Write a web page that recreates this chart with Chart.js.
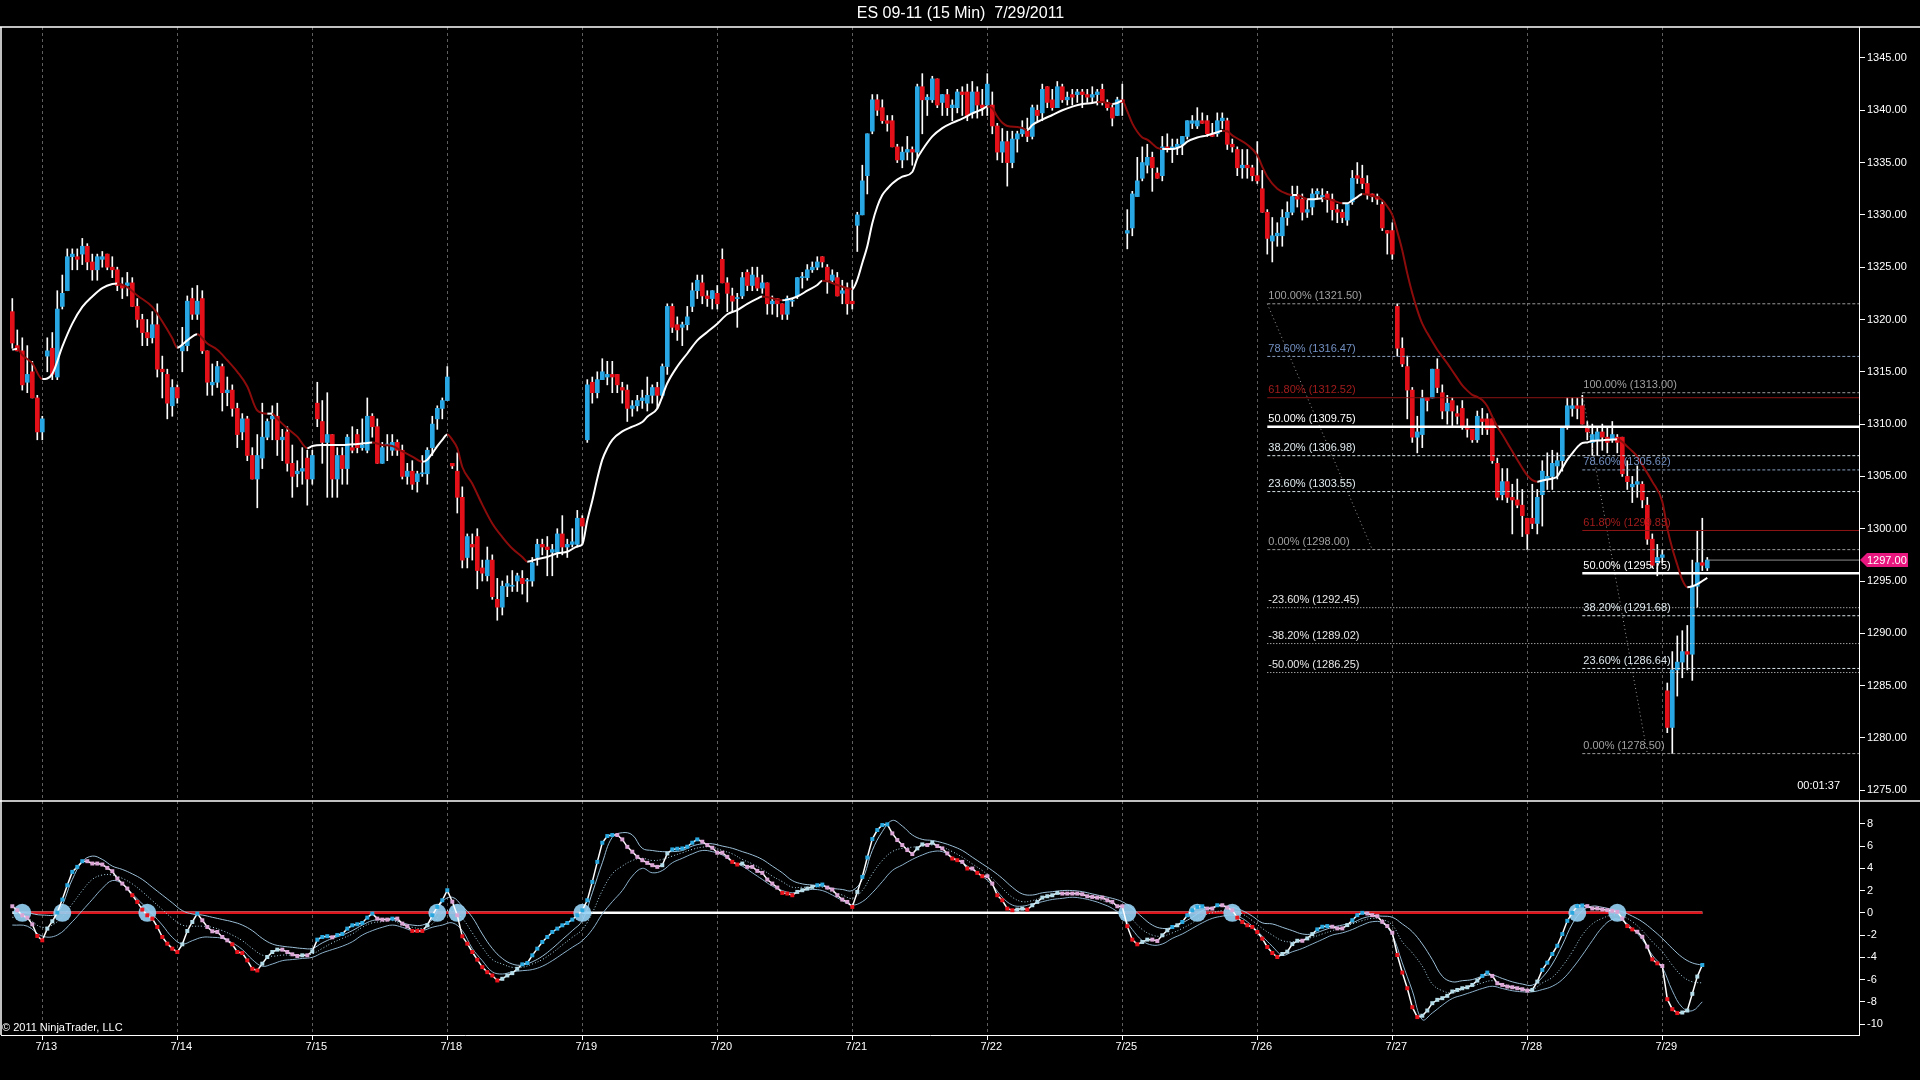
<!DOCTYPE html>
<html>
<head>
<meta charset="utf-8">
<title>ES 09-11 (15 Min) 7/29/2011</title>
<script src="https://cdn.jsdelivr.net/npm/chart.js@4.4.1/dist/chart.umd.min.js"></script>
<style>
  html, body { margin: 0; padding: 0; background: #000; }
  canvas { display: block; }
</style>
</head>
<body>
<canvas id="esChart" width="1920" height="1080"></canvas>
<script>
// ---- values ----
const dayStarts = [6, 33, 60, 87, 114, 141, 168, 195, 222, 249, 276, 303, 330];
const dayLabels = ["7/13", "7/14", "7/15", "7/18", "7/19", "7/20", "7/21", "7/22", "7/25", "7/26", "7/27", "7/28", "7/29"];
const priceTicks = [1275, 1280, 1285, 1290, 1295, 1300, 1305, 1310, 1315, 1320, 1325, 1330, 1335, 1340, 1345];
const oscTicks = [8, 6, 4, 2, 0, -2, -4, -6, -8, -10];

// 15 min bars
const opens = [
  1320.75, 1317.5, 1317, 1314, 1315, 1312.5, 1309.25, 1316.5, 1317.25, 1314.5,
  1321.25, 1322.75, 1326, 1326, 1326.25, 1327, 1325.5, 1324.75, 1325.75, 1326.25,
  1325, 1324.75, 1323.25, 1323.25, 1323.5, 1321.25, 1320, 1318.75, 1318.25, 1319.5,
  1315.25, 1314.75, 1311.75, 1313.5, 1317, 1317.5, 1322, 1320.5, 1322, 1317,
  1313.75, 1314, 1315.5, 1313, 1313.25, 1311.5, 1309.25, 1310.5, 1307, 1304.75,
  1306.75, 1308.75, 1310.5, 1310.75, 1308.5, 1309.25, 1306.25, 1305.25, 1305.5, 1306.75,
  1304.75, 1312, 1310.25, 1308.25, 1309, 1304.75, 1307, 1305.75, 1307.75, 1309,
  1307.75, 1307.5, 1310.75, 1309.75, 1306.25, 1308, 1307.5, 1308.25, 1307.5, 1305,
  1305.5, 1304.5, 1305.25, 1305.25, 1307.75, 1310.5, 1311.5, 1312.25, 1306.25, 1305.5,
  1303, 1297.25, 1298.5, 1299.25, 1296.25, 1295.5, 1297, 1293.25, 1292.5, 1294.5,
  1294.5, 1295, 1295.25, 1295, 1295, 1297.25, 1298.5, 1298.25, 1297.75, 1297.75,
  1299.5, 1298.25, 1298.5, 1298.5, 1301, 1308.5, 1314, 1313, 1314.25, 1314.5,
  1314.75, 1314.75, 1313.5, 1313.25, 1311.5, 1311.75, 1312.25, 1312, 1312.75, 1313.5,
  1312.75, 1315.5, 1321.25, 1319.5, 1319.25, 1319.5, 1321.25, 1322.75, 1323.5, 1322.25,
  1322, 1322.5, 1325.75, 1323.5, 1322.25, 1322, 1322.25, 1324.5, 1323.25, 1324,
  1323, 1323.5, 1321.5, 1322, 1321.5, 1320.5, 1321.75, 1322.25, 1324, 1324,
  1324.75, 1325, 1326, 1325, 1323.75, 1324, 1322.5, 1323, 1321.75, 1329,
  1330, 1333.75, 1338, 1341, 1340.25, 1339, 1339, 1336.5, 1335.25, 1336,
  1336.25, 1336, 1342.25, 1341, 1341, 1343, 1340.75, 1341.5, 1340.25, 1340.25,
  1341.75, 1341.75, 1339.75, 1341.75, 1340.5, 1340.5, 1340.5, 1338.5, 1336, 1337,
  1335, 1337.25, 1337.75, 1338, 1337.5, 1340, 1339.75, 1342.25, 1341, 1340.25,
  1342.25, 1341, 1341.5, 1341.5, 1341.75, 1341.5, 1341.25, 1341.5, 1342, 1340.75,
  1340.25, 1339.5, 1341, 1328.25, 1328.75, 1331.75, 1333.5, 1334.75, 1335.5, 1334,
  1333.75, 1336.5, 1336.25, 1336.5, 1336.75, 1337.5, 1338.75, 1338.5, 1339, 1339,
  1337.75, 1337.75, 1339, 1339, 1336.75, 1336.25, 1334.5, 1334.75, 1334.5, 1333.75,
  1332.5, 1330.25, 1327.5, 1328, 1328, 1329.75, 1330.25, 1331.75, 1331.5, 1330.25,
  1330.75, 1332, 1331.75, 1332, 1331.5, 1330.5, 1330.25, 1329.5, 1331.25, 1333.75,
  1333.5, 1333, 1332, 1331.75, 1331, 1328.5, 1328.5, 1321.25, 1317.25, 1315.5,
  1313.25, 1308.75, 1309, 1312.5, 1312.5, 1315.25, 1313, 1311.25, 1312.25, 1311,
  1311.5, 1309.75, 1309.5, 1308.5, 1310.5, 1310.5, 1310.5, 1306.25, 1303.25, 1304.5,
  1303, 1302.75, 1302.25, 1301, 1301, 1300.5, 1303.25, 1304.75, 1305, 1306,
  1306.5, 1309.75, 1311.5, 1311.75, 1311.75, 1309.75, 1308.25, 1308.5, 1309.25, 1308.75,
  1308.5, 1308.75, 1308.75, 1305, 1304, 1304.25, 1304.25, 1302.25, 1299, 1296.75,
  1297.25, 1284.5, 1281, 1286.5, 1287.25, 1288.25, 1288, 1294.5, 1296.75, 1296.25
];
const highs = [
  1322, 1319, 1318.25, 1317.5, 1316, 1312.75, 1310.75, 1318.25, 1318.75, 1322.75,
  1324.25, 1326.75, 1326.75, 1326.75, 1327.75, 1327.25, 1326.25, 1326.25, 1326.5, 1326.25,
  1326, 1325, 1324, 1324.5, 1324, 1322, 1320.5, 1320, 1320.75, 1321.5,
  1316.5, 1315.25, 1314.25, 1313.75, 1319.25, 1322.25, 1323, 1323.25, 1322.75, 1317,
  1315.75, 1316, 1315.75, 1314.5, 1313.75, 1312, 1311, 1310.75, 1307.75, 1309,
  1312, 1310.5, 1311.75, 1312, 1309.5, 1309.75, 1308, 1306.5, 1307.75, 1307.5,
  1307.5, 1314, 1312.25, 1313, 1309, 1307.75, 1307.75, 1309, 1309.75, 1309.5,
  1310.5, 1312.5, 1311, 1310.5, 1308.25, 1309, 1309, 1308.5, 1308, 1306.25,
  1306.5, 1305.5, 1307, 1307.75, 1310.75, 1311.75, 1312.5, 1315.5, 1306.25, 1307.25,
  1304, 1299.5, 1299.5, 1300, 1297, 1298.25, 1297.5, 1295.25, 1295, 1295.5,
  1296, 1295.75, 1296, 1295.25, 1297.25, 1299, 1299, 1299.25, 1298.5, 1300,
  1301.25, 1299, 1300, 1301.75, 1301.25, 1314.25, 1314.5, 1315, 1316.25, 1316,
  1316, 1314.75, 1314, 1313.75, 1312.25, 1312.75, 1313.25, 1314.5, 1313.75, 1314,
  1315.75, 1321.5, 1321.5, 1320.25, 1319.75, 1321.25, 1323.5, 1324.25, 1324.25, 1322.75,
  1322.75, 1323.25, 1326.75, 1324, 1323, 1322.5, 1324.5, 1324.75, 1325, 1325,
  1324.25, 1323.5, 1322.25, 1322, 1321.5, 1322.25, 1322, 1324, 1324.5, 1325.25,
  1325.5, 1326, 1326, 1325.25, 1324.75, 1324.5, 1323.75, 1323.5, 1323.75, 1330.25,
  1334.75, 1337.75, 1341.5, 1341.5, 1341, 1339.5, 1339.5, 1336.75, 1336.5, 1337.5,
  1336.5, 1342.5, 1343.5, 1341.5, 1343.25, 1343, 1341.5, 1342, 1341, 1342,
  1342.25, 1342.5, 1342.75, 1342.25, 1342, 1343.5, 1341.75, 1338.75, 1338.25, 1338,
  1338, 1338, 1339, 1339.25, 1340.5, 1340.5, 1342.5, 1342.25, 1342, 1342.75,
  1342.5, 1341.75, 1342, 1342, 1342, 1342, 1342.25, 1342, 1342.5, 1341,
  1340.5, 1341.25, 1342.5, 1330.5, 1332.25, 1335.5, 1336.5, 1336.75, 1336, 1334.5,
  1337.5, 1337.75, 1337.25, 1337.25, 1337.5, 1339, 1339.5, 1340.25, 1339.75, 1339.5,
  1338.75, 1339.75, 1339.75, 1339.25, 1337.25, 1336.5, 1336.25, 1336.25, 1334.75, 1337,
  1334.25, 1330.5, 1329.75, 1329.25, 1330.5, 1331.25, 1332.75, 1332.75, 1332, 1331.5,
  1332.5, 1332.5, 1332.5, 1332.25, 1332, 1331, 1330.5, 1331, 1334.25, 1335,
  1334.75, 1333.75, 1332, 1332, 1331.25, 1328.5, 1329.25, 1321.5, 1318.25, 1316.5,
  1313.5, 1310.75, 1313.25, 1312.5, 1315.25, 1316.25, 1313.75, 1312.75, 1312.5, 1311.75,
  1312.25, 1310.5, 1309.5, 1311.25, 1311.5, 1311, 1310.5, 1306.75, 1305.75, 1305.75,
  1304.25, 1304.75, 1303.75, 1301, 1304.25, 1303.75, 1306.5, 1307.25, 1307.5, 1307.25,
  1309.75, 1312.5, 1312.5, 1312.5, 1312.75, 1310.25, 1310, 1309.75, 1310, 1309.75,
  1310.25, 1309, 1308.75, 1306.5, 1305, 1306, 1304.5, 1303, 1299.5, 1298.5,
  1298, 1285.25, 1288.25, 1289.75, 1290.25, 1290.75, 1297, 1299.75, 1301, 1297.25
];
const lows = [
  1317.25, 1317, 1313.25, 1313, 1312.5, 1308.5, 1308.5, 1315, 1314.25, 1314.25,
  1321, 1322.75, 1324.75, 1324.75, 1325.25, 1324.75, 1323.75, 1323.75, 1325, 1324.75,
  1324, 1322.75, 1322, 1322.25, 1321.25, 1319.25, 1317.5, 1317.5, 1317.75, 1314.5,
  1312.5, 1310.5, 1310.75, 1312, 1315, 1317, 1320, 1320, 1316.75, 1312.75,
  1312.75, 1313.5, 1311.25, 1311.75, 1310.75, 1307.75, 1308.5, 1306.5, 1304.75, 1302,
  1305.75, 1308.5, 1308.5, 1307, 1306.5, 1305.5, 1303, 1304, 1304.25, 1302.25,
  1304.25, 1309.75, 1306.25, 1303, 1303, 1303, 1304.25, 1304.25, 1307.25, 1307.25,
  1307.5, 1307.25, 1308.75, 1306.25, 1306.25, 1306.5, 1307, 1307, 1304.75, 1304.25,
  1303.75, 1303.5, 1305, 1304.25, 1307, 1309.5, 1310.5, 1312.25, 1305.75, 1301.5,
  1296.25, 1296.25, 1297, 1294.25, 1295, 1295, 1293.25, 1291.25, 1291.75, 1293.5,
  1294, 1294, 1293.75, 1293, 1294.5, 1296.5, 1297.5, 1295.5, 1295.5, 1297.25,
  1297.5, 1297.25, 1298.25, 1298.25, 1298.5, 1308.25, 1312, 1312.5, 1314.25, 1313.75,
  1313, 1313, 1312, 1310.25, 1310.75, 1311.25, 1311.5, 1311.25, 1312, 1311.5,
  1312.5, 1314.75, 1318.75, 1318, 1317.5, 1319, 1320.75, 1322, 1321.5, 1321.25,
  1321, 1321, 1323.5, 1320.75, 1320.75, 1319.25, 1322, 1322.75, 1322.75, 1322.75,
  1322.5, 1320.5, 1320.5, 1320.25, 1320, 1320, 1321.25, 1322, 1323, 1323.75,
  1324.5, 1324.75, 1325, 1322.5, 1323.5, 1322.25, 1321.5, 1320.5, 1321, 1326.5,
  1330, 1332, 1337.75, 1339.5, 1338.75, 1338, 1336.5, 1335, 1334.5, 1335.25,
  1334.75, 1335.5, 1337.75, 1339.5, 1340.75, 1340.25, 1339.5, 1339.5, 1339, 1339.75,
  1339.5, 1339, 1339.25, 1339.25, 1339.5, 1339.5, 1337.75, 1335.25, 1335, 1332.75,
  1334.5, 1336, 1337.5, 1337, 1337.25, 1339, 1339, 1340.25, 1340, 1340.25,
  1340.75, 1340.5, 1340.5, 1340.75, 1340.25, 1340.75, 1340.75, 1340.5, 1340.5, 1340,
  1338.5, 1339.5, 1339.5, 1326.75, 1328, 1331.75, 1333.25, 1334, 1332.25, 1333.5,
  1333.25, 1336, 1335, 1335.75, 1335.75, 1337.25, 1338.25, 1338.25, 1338.75, 1337.5,
  1337.5, 1337.5, 1338.25, 1336.25, 1336, 1333.75, 1333.5, 1333.5, 1333.25, 1333,
  1330.25, 1326.25, 1325.5, 1327, 1327, 1329, 1330, 1330.75, 1329.5, 1329.75,
  1330, 1331.5, 1331.25, 1330.25, 1329.5, 1329.25, 1329.25, 1329, 1331, 1333,
  1332.5, 1331.5, 1331.25, 1331, 1328.5, 1326.25, 1325.75, 1316.5, 1315.5, 1310.5,
  1308.25, 1307.25, 1307.75, 1311.25, 1312.5, 1313, 1310.5, 1310, 1309.75, 1310,
  1309.5, 1308.75, 1308.25, 1308.25, 1309, 1309, 1306.25, 1302.75, 1302.75, 1302.5,
  1299.5, 1302, 1299.25, 1298, 1300, 1299.5, 1300.25, 1303.75, 1303.75, 1304.75,
  1305.5, 1309.5, 1310.75, 1310.5, 1310, 1308.5, 1307, 1307, 1307.5, 1307.25,
  1308.25, 1307.25, 1305, 1303.75, 1302.5, 1303, 1302, 1298.5, 1296.25, 1295.5,
  1296.75, 1280.5, 1278.5, 1284, 1285.75, 1286.5, 1285.5, 1292.5, 1296, 1296
];
const closes = [
  1317.75, 1317, 1313.75, 1314.75, 1312.5, 1309.25, 1310.5, 1317, 1314.75, 1321,
  1322.5, 1326, 1326.25, 1325.75, 1327, 1325.5, 1324.75, 1326, 1326, 1325,
  1324.75, 1323.25, 1323, 1323.5, 1321.25, 1320, 1318.75, 1318.25, 1319.5, 1315.25,
  1315, 1312, 1313.5, 1312.5, 1317.5, 1321.75, 1320.5, 1321.75, 1317, 1314,
  1314, 1315.5, 1313, 1313.25, 1311.5, 1309, 1310.5, 1307, 1304.75, 1307,
  1308.75, 1310.25, 1310.75, 1308.5, 1308.75, 1306.25, 1305, 1305.5, 1305.75, 1304.75,
  1307, 1310.5, 1308.25, 1309, 1304.75, 1307, 1305.75, 1308.75, 1307.5, 1307.75,
  1308, 1310.75, 1309.75, 1306.25, 1307.75, 1308, 1308.25, 1307.5, 1305, 1305.5,
  1304.25, 1305.25, 1305.25, 1307.5, 1310, 1311.5, 1312.25, 1314.5, 1306, 1303,
  1297, 1299.25, 1298.25, 1296, 1295.75, 1297, 1293.5, 1292.5, 1294.5, 1294.75,
  1294.5, 1295.5, 1294.75, 1295, 1296.75, 1298.5, 1298.25, 1298, 1298, 1299.5,
  1298.25, 1298.5, 1298.75, 1301, 1300.25, 1313.75, 1313, 1314.25, 1315, 1314.75,
  1314.5, 1313.75, 1313.25, 1311.5, 1311.75, 1312.25, 1312.5, 1312.75, 1313.5, 1312.75,
  1315.5, 1321.25, 1319.25, 1319, 1319.5, 1320.25, 1322.75, 1323.75, 1322.25, 1322,
  1322.75, 1321.5, 1323.5, 1322.5, 1321.75, 1322, 1324, 1323.25, 1324.25, 1323,
  1323.5, 1321.5, 1321.75, 1321.5, 1320.5, 1322, 1321.75, 1324, 1324, 1324.75,
  1325, 1325.5, 1325.5, 1323.75, 1324.25, 1322.25, 1322.75, 1321.5, 1321.5, 1330,
  1333.25, 1337.75, 1341, 1340, 1339, 1338.75, 1336.5, 1335.25, 1336, 1336.25,
  1336, 1342.25, 1341, 1341.25, 1343, 1340.5, 1341.5, 1340.25, 1340.5, 1341.75,
  1341.5, 1339.5, 1341.75, 1340.5, 1340.25, 1342.5, 1338.5, 1336, 1337, 1335,
  1337.25, 1337.75, 1338.25, 1337.5, 1340.25, 1339.5, 1342, 1340.75, 1340.25, 1342.25,
  1341, 1341.25, 1341.25, 1341.75, 1341.5, 1341.25, 1341.5, 1341.75, 1340.75, 1340.25,
  1339.25, 1341, 1340.75, 1328.5, 1332, 1333.25, 1335, 1335.5, 1334.5, 1333.5,
  1336.5, 1336.25, 1336.5, 1336.75, 1337.5, 1339, 1339, 1339, 1338.75, 1337.75,
  1337.5, 1339, 1339.25, 1336.75, 1336.5, 1334.5, 1334.75, 1334.5, 1333.75, 1333.25,
  1330.25, 1327.75, 1328, 1328.25, 1329.75, 1330.25, 1331.75, 1331.5, 1330.25, 1330.5,
  1332, 1332.25, 1331.75, 1331.5, 1330.5, 1330.25, 1329.75, 1331, 1333.5, 1333.5,
  1333, 1332, 1331.75, 1331.5, 1328.75, 1328.25, 1326.25, 1317.25, 1315.75, 1313.25,
  1308.75, 1309.25, 1312.5, 1312.25, 1315.25, 1313.5, 1311.25, 1312, 1311.25, 1310.75,
  1309.75, 1309.5, 1308.5, 1310.75, 1310.25, 1309.5, 1306.5, 1303, 1304.5, 1303,
  1302.75, 1302.25, 1301.25, 1299.5, 1300.5, 1303, 1305.5, 1305, 1306.25, 1306.5,
  1309.75, 1311.75, 1311.75, 1311.5, 1310, 1309.25, 1309, 1309.25, 1308.75, 1308.25,
  1309, 1308.25, 1305.25, 1304.5, 1304.25, 1304.5, 1302.75, 1299, 1296.5, 1297.25,
  1297.5, 1281, 1286.5, 1287.25, 1288.25, 1288, 1294.5, 1296.75, 1296.5, 1297
];

// moving average, read at the bars where it could be picked out
const maIdx = [
  0, 1, 2, 4, 6, 8, 10, 12, 14, 16, 18, 20, 21, 23, 25, 28, 30, 32, 33, 34,
  35, 37, 39, 41, 43, 45, 47, 49, 51, 52, 53, 55, 57, 59, 60, 62, 64, 66, 69, 71,
  72, 74, 76, 78, 80, 82, 83, 84, 85, 86, 87, 88, 89, 90, 92, 94, 96, 98, 100, 102,
  103, 105, 107, 109, 111, 113, 114, 115, 116, 117, 118, 119, 120, 122, 124, 126, 127, 129, 131, 133,
  135, 137, 139, 141, 143, 145, 147, 149, 150, 151, 153, 154, 155, 157, 159, 161, 162, 163, 165, 167,
  168, 169, 170, 171, 172, 173, 174, 175, 176, 178, 180, 181, 182, 184, 186, 188, 190, 192, 193, 194,
  195, 196, 197, 198, 199, 201, 202, 203, 204, 206, 208, 210, 212, 214, 216, 217, 218, 219, 220, 221,
  222, 223, 224, 225, 226, 227, 228, 229, 230, 232, 233, 234, 235, 237, 239, 241, 242, 243, 244, 245,
  247, 249, 250, 251, 253, 255, 256, 257, 258, 259, 260, 262, 264, 266, 267, 268, 269, 270, 271, 272,
  273, 274, 275, 276, 277, 278, 279, 280, 281, 282, 283, 284, 285, 286, 287, 288, 289, 290, 291, 292,
  293, 294, 295, 296, 297, 298, 299, 300, 301, 302, 303, 304, 305, 306, 307, 308, 309, 310, 311, 312,
  313, 314, 315, 316, 317, 318, 319, 320, 321, 322, 323, 324, 325, 326, 328, 330, 331, 332, 333, 334,
  335, 336, 337, 338, 339
];
const maVal = [
  1317.1, 1317.2, 1316.6, 1315.8, 1314.3, 1314.8, 1317.4, 1319.6, 1321.2, 1322.2, 1323.0, 1323.4, 1323.45, 1323.1, 1322.3, 1321.2, 1319.8, 1318.2, 1317.3, 1317.6,
  1318.0, 1318.6, 1317.7, 1317.1, 1316.1, 1315.0, 1313.6, 1311.3, 1311.0, 1311.0, 1310.5, 1309.6, 1308.8, 1307.7, 1307.9, 1308.0, 1308.0, 1308.0, 1308.1, 1308.2,
  1308.25, 1308.0, 1307.9, 1307.4, 1306.9, 1306.4, 1306.6, 1307.2, 1307.9, 1308.5, 1309.0, 1308.5, 1307.7, 1305.9, 1304.3, 1302.3, 1300.5, 1299.2, 1298.1, 1297.3,
  1296.85, 1297.1, 1297.3, 1297.65, 1297.8, 1298.3, 1298.5, 1300.8, 1302.7, 1304.8, 1306.6, 1307.7, 1308.5, 1309.3, 1309.75, 1310.2, 1310.7, 1311.5, 1313.9, 1315.5,
  1316.75, 1318.0, 1318.8, 1319.6, 1320.5, 1320.9, 1321.5, 1322.0, 1322.2, 1322.15, 1321.9, 1321.85, 1321.9, 1322.2, 1322.75, 1323.3, 1323.7, 1323.65, 1323.3, 1323.0,
  1322.9, 1323.8, 1325.4, 1327.0, 1329.2, 1330.8, 1331.9, 1332.5, 1333.0, 1333.65, 1334.1, 1335.4, 1336.2, 1337.5, 1338.3, 1338.8, 1339.2, 1339.7, 1339.9, 1340.1,
  1340.35, 1340.2, 1339.4, 1338.8, 1338.5, 1338.4, 1338.3, 1338.1, 1338.6, 1339.1, 1339.55, 1340.0, 1340.35, 1340.6, 1340.7, 1340.8, 1340.78, 1340.7, 1340.6, 1340.7,
  1340.9, 1339.9, 1338.75, 1337.95, 1337.4, 1337.2, 1336.8, 1336.4, 1336.3, 1336.3, 1336.4, 1336.6, 1337.0, 1337.4, 1337.6, 1337.9, 1338.05, 1338.0, 1337.6, 1337.3,
  1336.7, 1335.7, 1334.6, 1333.65, 1332.5, 1332.0, 1331.9, 1331.9, 1331.7, 1331.5, 1331.5, 1331.6, 1331.4, 1331.1, 1331.1, 1331.4, 1331.7, 1332.0, 1331.95, 1331.8,
  1331.7, 1331.4, 1330.8, 1330.0, 1328.4, 1326.6, 1324.4, 1322.5, 1320.9, 1319.6, 1318.7, 1317.9, 1317.1, 1316.45, 1315.8, 1315.1, 1314.4, 1313.7, 1313.2, 1312.8,
  1312.6, 1312.3, 1311.7, 1310.7, 1309.75, 1309.0, 1308.2, 1307.4, 1306.6, 1305.8, 1305.1, 1304.65, 1304.5, 1304.6, 1304.7, 1304.8, 1305.0, 1305.8, 1306.6, 1307.2,
  1307.8, 1308.2, 1308.25, 1308.4, 1308.42, 1308.45, 1308.5, 1308.52, 1308.55, 1308.3, 1307.85, 1307.4, 1306.9, 1306.1, 1304.5, 1302.6, 1300.05, 1298.1, 1296.55, 1295.1,
  1294.4, 1294.5, 1294.7, 1295.0, 1295.3
];

// fibonacci retracements drawn on the chart
const fibPcts = [100, 78.6, 61.8, 50, 38.2, 23.6, 0, -23.6, -38.2, -50];
const fibALevels = [1321.50, 1316.47, 1312.52, 1309.75, 1306.98, 1303.55, 1298.00, 1292.45, 1289.02, 1286.25];
const fibBLevels = [1313.00, 1305.62, 1299.83, 1295.75, 1291.68, 1286.64, 1278.50];
const fibAStart = 251;
const fibBStart = 314;
const fibATrend = [[251, 1321.5], [272, 1298.0]];
const fibBTrend = [[314, 1313.0], [327, 1278.5]];

// oscillator (lower pane)
const oscVals = [
  0.59, 0.23, -0.22, -0.43, -1.03, -2.08, -2.47, -1.42, -0.76, 0.02,
  1.19, 2.48, 3.68, 4.13, 4.64, 4.64, 4.43, 4.43, 4.34, 4.04,
  3.74, 3.08, 2.63, 2.18, 1.58, 0.98, 0.29, -0.22, -0.52, -1.27,
  -2.17, -2.77, -3.22, -3.52, -2.83, -1.63, -0.82, -0.07, -0.67, -1.27,
  -1.66, -1.72, -2.17, -2.47, -2.83, -3.52, -3.61, -4.27, -5.03, -5.18,
  -4.57, -3.97, -3.52, -3.31, -3.31, -3.52, -3.73, -3.88, -3.82, -3.82,
  -3.46, -2.41, -2.17, -2.10, -2.20, -2.00, -1.90, -1.42, -1.12, -1.03,
  -0.91, -0.43, -0.07, -0.52, -0.61, -0.61, -0.52, -0.52, -0.97, -1.21,
  -1.63, -1.63, -1.63, -1.12, -0.22, 0.53, 1.13, 2.03, 1.00, -0.22,
  -2.11, -2.77, -3.52, -4.21, -4.88, -5.33, -5.63, -6.08, -5.93, -5.63,
  -5.42, -5.03, -4.63, -4.51, -3.82, -3.22, -2.62, -2.17, -1.72, -1.42,
  -1.12, -0.91, -0.61, -0.22, 0.23, 1.13, 2.78, 4.58, 6.30, 6.90,
  6.99, 6.99, 6.60, 5.93, 5.49, 5.03, 4.73, 4.49, 4.28, 4.13,
  4.28, 5.34, 5.70, 5.76, 5.79, 5.94, 6.30, 6.60, 6.39, 6.09,
  5.85, 5.40, 5.40, 5.03, 4.58, 4.34, 4.43, 4.13, 4.13, 3.77,
  3.59, 2.99, 2.63, 2.27, 1.79, 1.73, 1.58, 1.88, 2.03, 2.18,
  2.33, 2.48, 2.54, 2.27, 2.09, 1.58, 1.19, 0.98, 0.53, 1.88,
  3.23, 4.97, 6.63, 7.44, 7.89, 7.95, 7.14, 6.54, 6.09, 5.64,
  5.28, 5.79, 6.15, 6.09, 6.30, 6.00, 5.79, 5.34, 4.88, 4.73,
  4.58, 3.98, 3.98, 3.59, 3.29, 3.29, 2.63, 1.58, 1.13, 0.38,
  0.23, 0.29, 0.38, 0.29, 0.68, 0.98, 1.37, 1.49, 1.58, 1.79,
  1.73, 1.73, 1.73, 1.73, 1.67, 1.49, 1.43, 1.37, 1.37, 1.13,
  0.98, 0.59, 0.59, -1.20, -2.41, -2.83, -2.62, -2.41, -2.41, -2.53,
  -2.02, -1.57, -1.27, -1.12, -0.82, -0.22, 0.23, 0.53, 0.59, 0.38,
  0.38, 0.68, 0.68, 0.47, 0.23, -0.43, -0.82, -1.12, -1.27, -1.72,
  -2.32, -3.07, -3.61, -3.97, -3.70, -3.49, -2.81, -2.51, -2.51, -2.30,
  -1.91, -1.49, -1.25, -1.19, -1.25, -1.40, -1.40, -1.10, -0.66, -0.21,
  0.00, -0.06, -0.21, -0.30, -0.81, -1.19, -1.79, -3.79, -5.37, -6.78,
  -8.48, -9.37, -9.25, -8.78, -8.12, -7.82, -7.67, -7.46, -7.07, -6.93,
  -6.78, -6.69, -6.48, -6.09, -5.67, -5.37, -5.67, -6.33, -6.48, -6.63,
  -6.69, -6.78, -6.87, -6.99, -6.93, -6.18, -5.13, -4.48, -3.70, -2.96,
  -1.91, -0.72, 0.00, 0.60, 0.66, 0.60, 0.39, 0.39, 0.30, 0.24,
  0.18, 0.09, -0.51, -1.19, -1.49, -1.70, -2.15, -3.04, -4.18, -4.54,
  -4.78, -7.76, -8.66, -9.01, -8.96, -8.78, -7.28, -5.73, -4.69
];
const bandIdx = [
  0, 3, 6, 9, 12, 14, 16, 18, 20, 22, 24, 26, 28, 30, 32, 34, 36, 38, 40, 42,
  44, 46, 48, 50, 52, 54, 56, 58, 60, 62, 64, 66, 68, 70, 72, 74, 76, 78, 80, 82,
  84, 86, 88, 90, 92, 94, 96, 98, 100, 102, 104, 106, 108, 110, 112, 114, 116, 118, 120, 122,
  124, 126, 128, 130, 132, 134, 136, 138, 140, 142, 144, 146, 148, 150, 152, 154, 156, 158, 160, 162,
  164, 166, 168, 170, 172, 174, 176, 178, 180, 182, 184, 186, 188, 190, 192, 194, 196, 198, 200, 202,
  204, 206, 208, 210, 212, 214, 216, 218, 220, 222, 224, 226, 228, 230, 232, 234, 236, 238, 240, 242,
  244, 246, 248, 250, 252, 254, 256, 258, 260, 262, 264, 266, 268, 270, 272, 274, 276, 278, 280, 282,
  284, 286, 288, 290, 292, 294, 296, 298, 300, 302, 304, 306, 308, 310, 312, 314, 316, 318, 320, 322,
  324, 326, 328, 330, 332, 334, 336, 338
];
const bandUpper = [
  0.1, 0.0, -0.2, 0.0, 3.0, 4.6, 5.1, 4.8, 4.2, 3.9, 3.5, 3.0, 2.3, 1.6, 0.9, 0.2, -0.1, -0.2, -0.4, -0.6,
  -0.8, -1.1, -1.6, -2.3, -2.8, -3.0, -3.1, -3.2, -3.2, -2.7, -2.3, -2.0, -1.6, -1.1, -0.7, -0.6, -0.6, -0.9, -1.1, -1.1,
  -0.6, 1.0, 1.4, 0.6, -0.4, -1.9, -3.2, -4.1, -4.6, -4.7, -4.4, -3.9, -3.2, -2.4, -1.6, -0.7, 1.8, 4.5, 6.8, 7.2,
  7.0, 5.8, 5.6, 5.5, 5.5, 5.6, 6.0, 6.2, 6.2, 6.0, 5.8, 5.5, 5.2, 4.8, 4.2, 3.6, 2.9, 2.6, 2.5, 2.4,
  2.2, 2.1, 2.0, 3.0, 5.6, 7.3, 8.3, 7.8, 7.0, 6.6, 6.5, 6.3, 6.0, 5.6, 5.0, 4.4, 3.8, 3.1, 2.3, 1.7,
  1.6, 1.8, 1.9, 2.0, 2.0, 1.9, 1.7, 1.5, 1.3, 1.0, 0.4, -0.4, -1.1, -1.4, -1.3, -0.9, -0.4, 0.2, 0.5, 0.6,
  0.5, 0.2, -0.3, -0.9, -1.0, -1.3, -1.6, -1.9, -1.9, -1.6, -1.3, -1.1, -0.9, -0.5, -0.3, -0.3, -0.4, -1.0, -1.7, -2.8,
  -4.2, -5.7, -6.2, -6.1, -6.0, -5.7, -5.6, -5.9, -6.2, -6.4, -6.5, -5.8, -4.6, -2.9, -1.0, 0.2, 0.6, 0.5, 0.3, 0.1,
  -0.3, -0.8, -1.5, -2.3, -3.2, -4.0, -4.5, -4.7
];
const bandMid = [
  -0.4, -0.5, -1.3, -0.8, 0.8, 2.0, 3.0, 3.4, 3.4, 3.1, 2.6, 1.9, 1.1, 0.3, -0.5, -1.1, -1.2, -1.2, -1.3, -1.6,
  -2.0, -2.5, -3.2, -3.8, -3.9, -3.8, -3.8, -3.8, -3.7, -3.2, -2.7, -2.3, -1.9, -1.3, -0.9, -0.8, -0.7, -1.1, -1.3, -1.4,
  -1.0, 0.0, 0.2, -0.5, -1.8, -3.1, -4.2, -4.6, -4.9, -4.9, -4.6, -4.2, -3.6, -2.9, -2.2, -1.5, 0.0, 2.0, 3.5, 4.2,
  4.7, 4.9, 4.7, 4.8, 5.1, 5.4, 5.7, 5.9, 5.9, 5.6, 5.3, 4.8, 4.4, 3.9, 3.3, 2.8, 2.3, 2.3, 2.3, 2.3,
  1.9, 1.6, 1.3, 2.0, 3.5, 4.7, 5.5, 5.8, 5.9, 6.0, 6.1, 5.9, 5.5, 5.0, 4.4, 3.8, 3.1, 2.2, 1.4, 1.0,
  1.1, 1.4, 1.6, 1.7, 1.7, 1.6, 1.4, 1.1, 0.8, 0.3, -0.6, -1.5, -2.0, -2.1, -1.8, -1.4, -0.9, -0.3, 0.0, 0.2,
  0.2, -0.1, -0.7, -1.4, -2.0, -2.5, -2.6, -2.4, -2.2, -1.9, -1.6, -1.3, -1.0, -0.7, -0.5, -0.6, -1.1, -2.6, -3.6, -4.8,
  -6.4, -7.0, -7.2, -6.9, -6.6, -6.3, -6.1, -6.4, -6.6, -6.8, -6.9, -6.3, -5.8, -4.8, -3.5, -2.0, -1.0, -0.5, -0.2, -0.3,
  -0.8, -1.6, -2.6, -3.5, -4.7, -5.7, -6.2, -6.3
];
const bandLower = [
  -1.1, -1.2, -2.1, -2.0, -0.8, 0.2, 1.2, 2.2, 2.9, 2.6, 1.7, 0.8, -0.1, -1.1, -2.2, -2.8, -2.5, -2.2, -2.2, -2.3,
  -2.7, -3.3, -4.2, -4.8, -4.6, -4.3, -4.2, -4.1, -4.0, -3.6, -3.3, -3.0, -2.6, -2.0, -1.6, -1.3, -1.1, -1.3, -1.6, -1.6,
  -1.3, -1.1, -0.9, -1.6, -3.2, -4.3, -5.3, -5.5, -5.3, -5.2, -5.1, -4.8, -4.3, -3.7, -3.1, -2.5, -1.5, -0.1, 1.0, 2.0,
  3.3, 4.0, 3.6, 3.8, 4.5, 4.9, 5.3, 5.6, 5.5, 5.2, 4.6, 4.2, 3.6, 3.0, 2.4, 2.0, 1.8, 2.0, 2.1, 2.0,
  1.6, 1.1, 0.7, 1.0, 1.8, 2.8, 3.8, 4.3, 4.8, 5.2, 5.5, 5.5, 5.0, 4.5, 3.9, 3.3, 2.5, 1.4, 0.7, 0.6,
  0.8, 1.0, 1.2, 1.3, 1.4, 1.3, 1.1, 0.8, 0.4, -0.3, -1.5, -2.5, -2.9, -2.8, -2.3, -1.9, -1.4, -0.9, -0.5, -0.3,
  -0.2, -0.5, -1.2, -2.1, -3.0, -3.8, -3.5, -3.2, -2.8, -2.4, -2.0, -1.8, -1.5, -1.1, -0.8, -0.9, -2.0, -4.5, -7.0, -9.6,
  -9.0, -8.3, -7.7, -7.4, -7.1, -6.8, -6.6, -6.8, -7.0, -7.1, -7.1, -6.9, -6.6, -6.0, -5.0, -3.8, -2.5, -1.3, -0.6, -0.7,
  -1.4, -2.4, -3.8, -4.9, -7.0, -8.5, -8.8, -8.0
];
const crossIdx = [2, 10, 27, 85, 89, 114, 223, 237, 244, 313, 321];
const zeroRedSpans = [[1, 114], [222, 338]];

// ---- helpers ----
const FONT = '"Liberation Sans", Arial, sans-serif';
const lastClose = closes[closes.length - 1];
const xMin = -2.26;
const xMax = 369.34;

function interp(xs, ys, i) {
  if (i <= xs[0]) return ys[0];
  for (let k = 1; k < xs.length; k++) {
    if (i <= xs[k]) {
      const t = (i - xs[k - 1]) / (xs[k] - xs[k - 1]);
      return ys[k - 1] + t * (ys[k] - ys[k - 1]);
    }
  }
  return ys[ys.length - 1];
}

function oscColor(ctx) {
  const i = ctx.dataIndex;
  const v = oscVals[i];
  const prev = i > 0 ? oscVals[i - 1] : v;
  if (v > prev) return v > interp(bandIdx, bandUpper, i) ? "#2aa8e0" : "#b4dbe8";
  return v < interp(bandIdx, bandLower, i) ? "#e8131b" : "#dba6d6";
}

function fibStyle(p) {
  if (p === 100 || p === 0) return { line: "#9a9a9a", text: "#a0a0a0", width: 1, dash: [3, 2] };
  if (p === 78.6) return { line: "#8aa0c0", text: "#7290c2", width: 1, dash: [3, 2] };
  if (p === 61.8) return { line: "#8e1414", text: "#a31c1c", width: 1, dash: [] };
  if (p === 50) return { line: "#ffffff", text: "#ffffff", width: 2.5, dash: [] };
  if (p > 0) return { line: "#d8e4ea", text: "#dfe9ee", width: 1, dash: [3, 2] };
  return { line: "#e0e0e0", text: "#e8e8e8", width: 1, dash: [1, 2] };
}

// strip the automatic label padding so the plot area starts at the frame
function noPad(s) {
  s.paddingLeft = 0;
  s.paddingRight = 0;
  s.paddingTop = 0;
  s.paddingBottom = 0;
}

const fibDatasets = [];
[[fibAStart, fibALevels], [fibBStart, fibBLevels]].forEach(([start, levels]) => {
  levels.forEach((lvl, k) => {
    const st = fibStyle(fibPcts[k]);
    fibDatasets.push({
      type: "line",
      yAxisID: "y",
      data: [{ x: start, y: lvl }, { x: xMax, y: lvl }],
      borderColor: st.line,
      borderWidth: st.width,
      borderDash: st.dash,
      pointRadius: 0,
      order: 8,
    });
  });
});
[fibATrend, fibBTrend].forEach((tr) => {
  fibDatasets.push({
    type: "line",
    yAxisID: "y",
    data: tr.map(([x, y]) => ({ x, y })),
    borderColor: "#9a9a9a",
    borderWidth: 1,
    borderDash: [1, 3],
    pointRadius: 0,
    order: 8,
  });
});

const zeroRedData = [];
zeroRedSpans.forEach(([a, b]) => {
  zeroRedData.push({ x: a, y: 0 }, { x: b, y: 0 }, { x: b + 0.5, y: null });
});

// ---- plugins: fib labels, pane frame, small texts ----
const fibLabels = {
  id: "fibLabels",
  afterDatasetsDraw(chart) {
    const { ctx, scales } = chart;
    ctx.save();
    ctx.font = "11px " + FONT;
    ctx.textAlign = "left";
    ctx.textBaseline = "bottom";
    [[fibAStart, fibALevels], [fibBStart, fibBLevels]].forEach(([start, levels]) => {
      levels.forEach((lvl, k) => {
        const pct = fibPcts[k];
        ctx.fillStyle = fibStyle(pct).text;
        ctx.fillText(
          pct.toFixed(2) + "% (" + lvl.toFixed(2) + ")",
          scales.x.getPixelForValue(start) + 1,
          scales.y.getPixelForValue(lvl) - 2
        );
      });
    });
    ctx.restore();
  },
};

const paneFrame = {
  id: "paneFrame",
  afterDraw(chart) {
    const { ctx, chartArea, scales, width } = chart;
    const y = scales.y;
    const y2 = scales.y2;
    ctx.save();
    ctx.strokeStyle = "#ffffff";
    ctx.lineWidth = 1.5;
    ctx.beginPath();
    ctx.moveTo(0, chartArea.top);
    ctx.lineTo(width, chartArea.top);
    ctx.moveTo(0, y2.top);
    ctx.lineTo(width, y2.top);
    ctx.moveTo(chartArea.left, chartArea.top);
    ctx.lineTo(chartArea.left, chartArea.bottom);
    ctx.stroke();

    // last price marker on the axis
    const py = y.getPixelForValue(lastClose);
    const ax = y.left;
    ctx.fillStyle = "#e8177f";
    ctx.beginPath();
    ctx.moveTo(ax + 1, py);
    ctx.lineTo(ax + 8, py - 7);
    ctx.lineTo(ax + 49, py - 7);
    ctx.lineTo(ax + 49, py + 7);
    ctx.lineTo(ax + 8, py + 7);
    ctx.closePath();
    ctx.fill();
    ctx.font = "11px " + FONT;
    ctx.fillStyle = "#ffffff";
    ctx.textBaseline = "middle";
    ctx.textAlign = "left";
    ctx.fillText(lastClose.toFixed(2), ax + 8, py + 0.5);

    ctx.textAlign = "right";
    ctx.fillText("00:01:37", chartArea.right - 19, y.bottom - 15);
    ctx.textAlign = "left";
    ctx.fillText("\u00a9 2011 NinjaTrader, LLC", chartArea.left + 1, y2.bottom - 7);
    ctx.restore();
  },
};

// ---- chart ----
const ctxEs = document.getElementById("esChart").getContext("2d");
const esChart = new Chart(ctxEs, {
  type: "line",
  data: {
    datasets: [
      // price pane
      {
        type: "bar",
        yAxisID: "y",
        data: highs.map((h, i) => ({ x: i, y: [lows[i], h] })),
        backgroundColor: "#ffffff",
        barThickness: 1,
        grouped: false,
        order: 12,
      },
      {
        type: "bar",
        yAxisID: "y",
        data: opens.map((o, i) => ({ x: i, y: [o, closes[i]] })),
        backgroundColor: (c) => (closes[c.dataIndex] >= opens[c.dataIndex] ? "#27a6e3" : "#e3101a"),
        barThickness: 4,
        minBarLength: 1,
        grouped: false,
        order: 11,
      },
      ...fibDatasets,
      {
        type: "line",
        yAxisID: "y",
        data: [{ x: closes.length - 1, y: lastClose }, { x: xMax, y: lastClose }],
        borderColor: "#8c8c8c",
        borderWidth: 1,
        pointRadius: 0,
        order: 7,
      },
      {
        type: "line",
        yAxisID: "y",
        data: maIdx.map((x, k) => ({ x, y: maVal[k] })),
        borderWidth: 2,
        pointRadius: 0,
        cubicInterpolationMode: "monotone",
        segment: {
          borderColor: (s) => (s.p1.parsed.y >= s.p0.parsed.y ? "#ffffff" : "#8c0c0c"),
        },
        order: 5,
      },
      // oscillator pane
      {
        yAxisID: "y2",
        data: [{ x: 0, y: 0 }, { x: oscVals.length - 1, y: 0 }],
        borderColor: "#ffffff",
        borderWidth: 2.5,
        pointRadius: 0,
        order: 20,
      },
      {
        yAxisID: "y2",
        data: zeroRedData,
        borderColor: "#e0141c",
        borderWidth: 2.5,
        pointRadius: 0,
        order: 19,
      },
      {
        yAxisID: "y2",
        data: bandIdx.map((x, k) => ({ x, y: bandUpper[k] })),
        borderColor: "#9cc0d8",
        borderWidth: 1,
        pointRadius: 0,
        tension: 0.4,
        order: 18,
      },
      {
        yAxisID: "y2",
        data: bandIdx.map((x, k) => ({ x, y: bandMid[k] })),
        borderColor: "#a9d2e4",
        borderWidth: 1,
        borderDash: [1, 2],
        pointRadius: 0,
        tension: 0.4,
        order: 18,
      },
      {
        yAxisID: "y2",
        data: bandIdx.map((x, k) => ({ x, y: bandLower[k] })),
        borderColor: "#8cb2cc",
        borderWidth: 1,
        pointRadius: 0,
        tension: 0.4,
        order: 18,
      },
      {
        yAxisID: "y2",
        data: crossIdx.map((x) => ({ x, y: 0 })),
        showLine: false,
        pointRadius: 9,
        pointBackgroundColor: "rgba(150, 210, 245, 0.9)",
        pointBorderWidth: 0,
        order: 17,
      },
      {
        yAxisID: "y2",
        data: oscVals.map((v, i) => ({ x: i, y: v })),
        borderColor: "#ffffff",
        borderWidth: 1.5,
        pointStyle: "rect",
        pointRadius: 2.8,
        pointBorderWidth: 0,
        pointBackgroundColor: oscColor,
        order: 1,
      },
    ],
  },
  options: {
    responsive: false,
    devicePixelRatio: 1,
    animation: false,
    events: [],
    layout: { autoPadding: false, padding: { left: 1, right: 0, top: 0, bottom: 26.8 } },
    scales: {
      x: {
        type: "linear",
        min: xMin,
        max: xMax,
        offset: false,
        afterBuildTicks: (s) => { s.ticks = dayStarts.map((v) => ({ value: v })); },
        afterFit: noPad,
        ticks: {
          color: "#ffffff",
          font: { size: 11, family: FONT },
          padding: 0,
          autoSkip: false,
          maxRotation: 0,
          labelOffset: 4,
          callback: (v) => {
            const k = dayStarts.indexOf(v);
            return k >= 0 ? dayLabels[k] : "";
          },
        },
        grid: { color: "#5e5e5e", lineWidth: 1, offset: false, tickColor: "#ffffff", tickLength: 5 },
        border: { display: true, color: "#ffffff", dash: [3, 3] },
      },
      y: {
        type: "linear",
        position: "right",
        stack: "panes",
        stackWeight: 774,
        min: 1273.97,
        max: 1347.96,
        afterBuildTicks: (s) => { s.ticks = priceTicks.map((v) => ({ value: v })); },
        afterFit: (s) => { s.width = 61; noPad(s); },
        ticks: {
          color: "#ffffff",
          font: { size: 11, family: FONT },
          padding: 2,
          autoSkip: false,
          callback: (v) => v.toFixed(2),
        },
        grid: { display: true, drawOnChartArea: false, tickColor: "#ffffff", tickLength: 6 },
        border: { display: true, color: "#ffffff" },
      },
      y2: {
        type: "linear",
        position: "right",
        stack: "panes",
        stackWeight: 234,
        min: -10.98,
        max: 10.05,
        afterBuildTicks: (s) => { s.ticks = oscTicks.map((v) => ({ value: v })); },
        afterFit: (s) => { s.width = 61; noPad(s); },
        ticks: {
          color: "#ffffff",
          font: { size: 11, family: FONT },
          padding: 2,
          autoSkip: false,
        },
        grid: { display: true, drawOnChartArea: false, tickColor: "#ffffff", tickLength: 6 },
        border: { display: true, color: "#ffffff" },
      },
    },
    plugins: {
      legend: { display: false },
      tooltip: { enabled: false },
      title: {
        display: true,
        text: "ES 09-11 (15 Min)  7/29/2011",
        color: "#ffffff",
        font: { size: 16, weight: "normal", family: FONT },
        padding: { top: 3.9, bottom: 3.9 },
      },
    },
  },
  plugins: [fibLabels, paneFrame],
});
</script>
</body>
</html>
